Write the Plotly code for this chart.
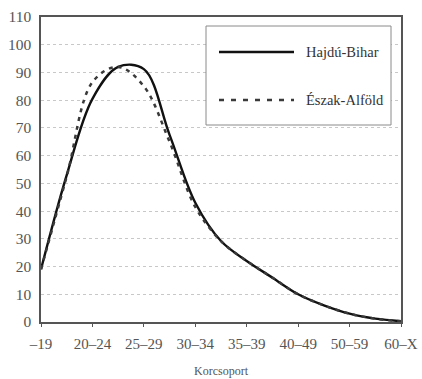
import plotly.graph_objects as go

# Tick labels (age groups) and values at every half step between them
categories = ["–19", "20–24", "25–29", "30–34", "35–39", "40–49", "50–59", "60–X"]
positions = [0, 0.5, 1, 1.5, 2, 2.5, 3, 3.5, 4, 4.5, 5, 5.5, 6, 6.5, 7]
hajdu_bihar = [19, 53, 80.5, 92, 91.2, 67.5, 43, 29.2, 22, 16, 10, 6, 3, 1.2, 0.3]
eszak_alfold = [19, 52.5, 86.5, 92, 85, 65, 41.5, 29.2, 22, 16, 10, 6, 3, 1.2, 0.3]
y_ticks = list(range(0, 111, 10))
series_names = ["Hajdú-Bihar", "Észak-Alföld"]

SERIF = "Liberation Serif, Times New Roman, serif"
W, H = 422, 379
ML, MR, MT, MB = 41, 21, 17, 57
PL, PR, PT, PB = ML, W - MR, MT, H - MB  # plot area in window pixels


def px_x(p):
    return (p - PL) / (PR - PL)


def px_y(p):
    return (PB - p) / (PB - PT)


fig = go.Figure()
fig.add_trace(go.Scatter(
    x=positions, y=hajdu_bihar, name=series_names[0], mode="lines",
    line=dict(color="#111111", width=2.4, shape="spline", smoothing=1.0),
))
fig.add_trace(go.Scatter(
    x=positions, y=eszak_alfold, name=series_names[1], mode="lines",
    line=dict(color="#3a3a3a", width=2.5, dash="4px,5px", shape="spline", smoothing=1.0),
))

# Legend box drawn by hand to match the long line samples of the original
shapes = [
    dict(type="rect", xref="paper", yref="paper",
         x0=px_x(206), x1=px_x(391), y0=px_y(125), y1=px_y(26),
         line=dict(color="#8a8a8a", width=1), fillcolor="white", layer="above"),
    dict(type="line", xref="paper", yref="paper",
         x0=px_x(219), x1=px_x(294), y0=px_y(52), y1=px_y(52),
         line=dict(color="#111111", width=2.5), layer="above"),
    dict(type="line", xref="paper", yref="paper",
         x0=px_x(219), x1=px_x(294), y0=px_y(100), y1=px_y(100),
         line=dict(color="#3a3a3a", width=2.5, dash="5px,7px"), layer="above"),
]
annotations = [
    dict(text=series_names[0], xref="paper", yref="paper", x=px_x(304), y=px_y(52),
         xanchor="left", yanchor="middle", showarrow=False,
         font=dict(size=14.5, family=SERIF, color="#333333")),
    dict(text=series_names[1], xref="paper", yref="paper", x=px_x(304), y=px_y(100),
         xanchor="left", yanchor="middle", showarrow=False,
         font=dict(size=14.5, family=SERIF, color="#333333")),
]

fig.update_layout(
    width=W, height=H,
    margin=dict(l=ML, r=MR, t=MT, b=MB),
    paper_bgcolor="white", plot_bgcolor="white",
    font=dict(family=SERIF, color="#444444"),
    showlegend=False,
    shapes=shapes, annotations=annotations,
    xaxis=dict(
        range=[0, 7], tickvals=list(range(len(categories))), ticktext=categories,
        showgrid=False, showline=True, linecolor="#555555", linewidth=1.5,
        mirror=True, ticks="outside", ticklen=3, tickcolor="#555555",
        tickfont=dict(size=15, color="#555555"), automargin=False, zeroline=False,
        ticklabelstandoff=4,
        title=dict(text="Korcsoport", font=dict(size=12, color="#555555"), standoff=16),
    ),
    yaxis=dict(
        range=[0, 110], tickvals=y_ticks,
        showgrid=True, gridcolor="#c8c8c8", griddash="dot", gridwidth=1,
        showline=True, linecolor="#555555", linewidth=1.5, mirror=True,
        ticks="", tickfont=dict(size=15.5, color="#555555"), zeroline=False,
        automargin=False, ticklabelstandoff=5,
    ),
)

fig.write_html(
    "out.html",
    config={"displayModeBar": False},
    post_script="document.body.style.margin='0';document.body.style.overflow='hidden';",
)
